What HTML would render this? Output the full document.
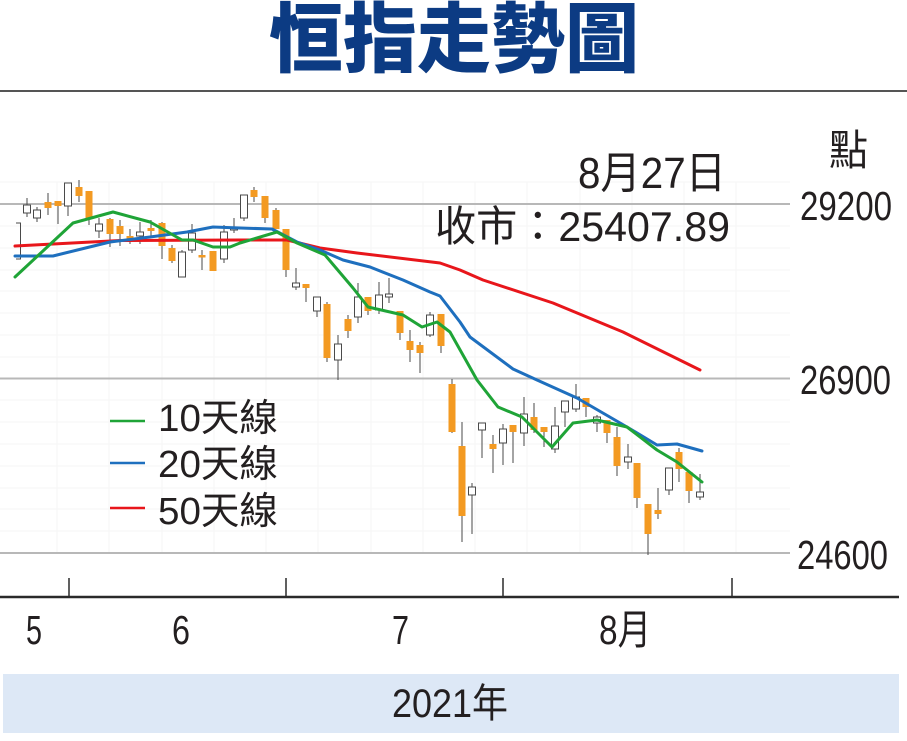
<!DOCTYPE html>
<html><head><meta charset="utf-8"><style>
html,body{margin:0;padding:0;background:#fff;}
svg{display:block;}
text{font-family:"Liberation Sans","Noto Sans CJK TC",sans-serif;fill:#231f20;}
.o{fill:#f39a22;stroke:none;}
.h{fill:#fff;stroke:#4a4a4a;stroke-width:1;}
.w{stroke:#4a4a4a;stroke-width:1;}
</style></head><body>
<svg width="907" height="741" viewBox="0 0 907 741" xmlns="http://www.w3.org/2000/svg">
<rect width="907" height="741" fill="#fff"/>
<text x="269" y="66" font-size="76" font-weight="bold" textLength="370" lengthAdjust="spacingAndGlyphs" style="fill:#0c3b83;font-family:'Noto Sans CJK TC','Noto Sans CJK SC',sans-serif;font-weight:900">恒指走勢圖</text>
<line x1="0" y1="91" x2="907" y2="91" stroke="#555" stroke-width="2"/>

<!-- faint grid -->
<g stroke="#f5f5f5" stroke-width="1">
<line x1="0" y1="182" x2="790" y2="182"/>
<line x1="0" y1="226" x2="790" y2="226"/><line x1="0" y1="248" x2="790" y2="248"/><line x1="0" y1="270" x2="790" y2="270"/><line x1="0" y1="291" x2="790" y2="291"/><line x1="0" y1="313" x2="790" y2="313"/><line x1="0" y1="335" x2="790" y2="335"/><line x1="0" y1="357" x2="790" y2="357"/>
<line x1="0" y1="400" x2="790" y2="400"/><line x1="0" y1="422" x2="790" y2="422"/><line x1="0" y1="444" x2="790" y2="444"/><line x1="0" y1="466" x2="790" y2="466"/><line x1="0" y1="488" x2="790" y2="488"/><line x1="0" y1="509" x2="790" y2="509"/><line x1="0" y1="531" x2="790" y2="531"/>
<line x1="57" y1="182" x2="57" y2="553"/><line x1="109" y1="182" x2="109" y2="553"/><line x1="162" y1="182" x2="162" y2="553"/><line x1="214" y1="182" x2="214" y2="553"/><line x1="266" y1="182" x2="266" y2="553"/><line x1="318" y1="182" x2="318" y2="553"/><line x1="371" y1="182" x2="371" y2="553"/><line x1="423" y1="182" x2="423" y2="553"/><line x1="475" y1="182" x2="475" y2="553"/><line x1="527" y1="182" x2="527" y2="553"/><line x1="580" y1="182" x2="580" y2="553"/><line x1="632" y1="182" x2="632" y2="553"/><line x1="684" y1="182" x2="684" y2="553"/><line x1="736" y1="182" x2="736" y2="553"/>
</g>

<!-- main gridlines -->
<g stroke="#b8b8b8" stroke-width="2">
<line x1="0" y1="204" x2="790" y2="204"/>
<line x1="0" y1="378.5" x2="790" y2="378.5"/>
<line x1="0" y1="553" x2="790" y2="553"/>
</g>

<!-- texts top right -->
<text x="829" y="165" font-size="42" textLength="39" lengthAdjust="spacingAndGlyphs">點</text>
<text x="578" y="188" font-size="44" textLength="148" lengthAdjust="spacingAndGlyphs">8月27日</text>
<text x="435" y="241" font-size="42" textLength="295" lengthAdjust="spacingAndGlyphs">收市：25407.89</text>
<text x="800" y="220" font-size="41" textLength="92" lengthAdjust="spacingAndGlyphs">29200</text>
<text x="800" y="394" font-size="41" textLength="91" lengthAdjust="spacingAndGlyphs">26900</text>
<text x="797" y="569" font-size="41" textLength="91" lengthAdjust="spacingAndGlyphs">24600</text>

<!-- candles -->
<path d="M16,223 H20.5 V259 H16" fill="none" stroke="#4a4a4a" stroke-width="1"/>
<g>
<line class="w" x1="27" y1="198" x2="27" y2="217"/><rect class="h" x="23.5" y="205" width="7" height="8"/>
<line class="w" x1="37" y1="207" x2="37" y2="222"/><rect class="h" x="33.5" y="210" width="7" height="8"/>
<line class="w" x1="48" y1="193" x2="48" y2="215"/><rect class="o" x="44.5" y="202" width="7" height="6"/>
<line class="w" x1="58" y1="201" x2="58" y2="224"/><rect class="o" x="54.5" y="201" width="7" height="5"/>
<line class="w" x1="68" y1="183" x2="68" y2="216"/><rect class="h" x="64.5" y="183" width="7" height="23"/>
<line class="w" x1="79" y1="180" x2="79" y2="202"/><rect class="o" x="75.5" y="187" width="7" height="9"/>
<line class="w" x1="89" y1="191" x2="89" y2="225"/><rect class="o" x="85.5" y="191" width="7" height="27"/>
<line class="w" x1="99" y1="218" x2="99" y2="238"/><rect class="h" x="95.5" y="224" width="7" height="7"/>
<line class="w" x1="110" y1="218" x2="110" y2="247"/><rect class="o" x="106.5" y="219" width="7" height="15"/>
<line class="w" x1="120" y1="220" x2="120" y2="246"/><rect class="o" x="116.5" y="226" width="7" height="8"/>
<line class="w" x1="130" y1="229" x2="130" y2="244"/><rect class="o" x="126.5" y="236" width="7" height="2.5"/>
<line class="w" x1="140" y1="222" x2="140" y2="244"/><rect class="h" x="136.5" y="232" width="7" height="4"/>
<line class="w" x1="151" y1="220" x2="151" y2="238"/><rect class="o" x="147.5" y="228" width="7" height="3"/>
<line class="w" x1="162" y1="222" x2="162" y2="259"/><rect class="o" x="158.5" y="223" width="7" height="23"/>
<line class="w" x1="172" y1="245" x2="172" y2="263"/><rect class="o" x="168.5" y="248" width="7" height="13"/>
<line class="w" x1="182" y1="250" x2="182" y2="277"/><rect class="h" x="178.5" y="252" width="7" height="25"/>
<line class="w" x1="192" y1="224" x2="192" y2="253"/><rect class="h" x="188.5" y="233" width="7" height="17"/>
<line class="w" x1="202" y1="250" x2="202" y2="270"/><rect class="o" x="198.5" y="255" width="7" height="2.5"/>
<line class="w" x1="213" y1="251" x2="213" y2="271"/><rect class="o" x="209.5" y="251" width="7" height="20"/>
<line class="w" x1="224" y1="225" x2="224" y2="263"/><rect class="h" x="220.5" y="232" width="7" height="27"/>
<line class="w" x1="234" y1="218" x2="234" y2="233"/><rect class="h" x="230.5" y="228" width="7" height="2"/>
<line class="w" x1="244" y1="195" x2="244" y2="221"/><rect class="h" x="240.5" y="195" width="7" height="23"/>
<line class="w" x1="254" y1="187" x2="254" y2="202"/><rect class="o" x="250.5" y="190" width="7" height="7"/>
<line class="w" x1="265" y1="196" x2="265" y2="223"/><rect class="o" x="261.5" y="196" width="7" height="22"/>
<line class="w" x1="276" y1="208" x2="276" y2="229"/><rect class="o" x="272.5" y="210" width="7" height="19"/>
<line class="w" x1="286" y1="229" x2="286" y2="277"/><rect class="o" x="282.5" y="229" width="7" height="41"/>
<line class="w" x1="296" y1="268" x2="296" y2="290"/><rect class="h" x="292.5" y="283" width="7" height="4"/>
<line class="w" x1="306" y1="284" x2="306" y2="302"/><rect class="o" x="302.5" y="284" width="7" height="4"/>
<line class="w" x1="317" y1="297" x2="317" y2="317"/><rect class="h" x="313.5" y="297" width="7" height="14"/>
<line class="w" x1="327" y1="302" x2="327" y2="362"/><rect class="o" x="323.5" y="304" width="7" height="54"/>
<line class="w" x1="338" y1="335" x2="338" y2="380"/><rect class="h" x="334.5" y="344" width="7" height="16"/>
<line class="w" x1="348" y1="315" x2="348" y2="338"/><rect class="o" x="344.5" y="319" width="7" height="12"/>
<line class="w" x1="358" y1="283" x2="358" y2="323"/><rect class="h" x="354.5" y="297" width="7" height="20"/>
<line class="w" x1="368" y1="297" x2="368" y2="315"/><rect class="o" x="364.5" y="297" width="7" height="14"/>
<line class="w" x1="379" y1="282" x2="379" y2="314"/><rect class="h" x="375.5" y="295" width="7" height="15"/>
<line class="w" x1="389" y1="278" x2="389" y2="303"/><rect class="h" x="385.5" y="294" width="7" height="3"/>
<line class="w" x1="400" y1="311" x2="400" y2="340"/><rect class="o" x="396.5" y="311" width="7" height="22"/>
<line class="w" x1="410" y1="330" x2="410" y2="362"/><rect class="o" x="406.5" y="341" width="7" height="9"/>
<line class="w" x1="420" y1="342" x2="420" y2="373"/><rect class="o" x="416.5" y="345" width="7" height="8"/>
<line class="w" x1="430" y1="312" x2="430" y2="337"/><rect class="h" x="426.5" y="315" width="7" height="20"/>
<line class="w" x1="441" y1="314" x2="441" y2="353"/><rect class="o" x="437.5" y="314" width="7" height="32"/>
<line class="w" x1="452" y1="379" x2="452" y2="433"/><rect class="o" x="448.5" y="384" width="7" height="48"/>
<line class="w" x1="462" y1="422" x2="462" y2="542"/><rect class="o" x="458.5" y="446" width="7" height="70"/>
<line class="w" x1="472" y1="483" x2="472" y2="534"/><rect class="h" x="468.5" y="487" width="7" height="8"/>
<line class="w" x1="482" y1="423" x2="482" y2="458"/><rect class="h" x="478.5" y="423" width="7" height="7"/>
<line class="w" x1="493" y1="435" x2="493" y2="473"/><rect class="o" x="489.5" y="444" width="7" height="5"/>
<line class="w" x1="503" y1="424" x2="503" y2="465"/><rect class="h" x="499.5" y="429" width="7" height="14"/>
<line class="w" x1="513" y1="425" x2="513" y2="463"/><rect class="o" x="509.5" y="425" width="7" height="7"/>
<line class="w" x1="524" y1="397" x2="524" y2="446"/><rect class="h" x="520.5" y="414" width="7" height="19"/>
<line class="w" x1="534" y1="403" x2="534" y2="433"/><rect class="o" x="530.5" y="417" width="7" height="13"/>
<line class="w" x1="544" y1="427" x2="544" y2="447"/><rect class="o" x="540.5" y="427" width="7" height="5"/>
<line class="w" x1="555" y1="407" x2="555" y2="453"/><rect class="h" x="551.5" y="426" width="7" height="23"/>
<line class="w" x1="565" y1="401" x2="565" y2="427"/><rect class="h" x="561.5" y="401" width="7" height="11"/>
<line class="w" x1="576" y1="384" x2="576" y2="412"/><rect class="h" x="572.5" y="397" width="7" height="12"/>
<line class="w" x1="586" y1="398" x2="586" y2="417"/><rect class="o" x="582.5" y="398" width="7" height="9"/>
<line class="w" x1="597" y1="415" x2="597" y2="432"/><rect class="h" x="593.5" y="417" width="7" height="6"/>
<line class="w" x1="607" y1="420" x2="607" y2="443"/><rect class="o" x="603.5" y="420" width="7" height="13"/>
<line class="w" x1="617" y1="427" x2="617" y2="476"/><rect class="o" x="613.5" y="437" width="7" height="29"/>
<line class="w" x1="628" y1="444" x2="628" y2="469"/><rect class="h" x="624.5" y="457" width="7" height="5"/>
<line class="w" x1="637" y1="463" x2="637" y2="508"/><rect class="o" x="633.5" y="463" width="7" height="35"/>
<line class="w" x1="648" y1="504" x2="648" y2="555"/><rect class="o" x="644.5" y="504" width="7" height="30"/>
<line class="w" x1="658" y1="488" x2="658" y2="519"/><rect class="o" x="654.5" y="510" width="7" height="4"/>
<line class="w" x1="669" y1="468" x2="669" y2="495"/><rect class="h" x="665.5" y="468" width="7" height="22"/>
<line class="w" x1="679" y1="448" x2="679" y2="482"/><rect class="o" x="675.5" y="452" width="7" height="17"/>
<line class="w" x1="689" y1="472" x2="689" y2="503"/><rect class="o" x="685.5" y="472" width="7" height="19"/>
<line class="w" x1="700" y1="474" x2="700" y2="500"/><rect class="h" x="696.5" y="492" width="7" height="5"/>
</g>

<!-- moving averages -->
<g fill="none" stroke-width="3" stroke-linejoin="round" stroke-linecap="round">
<polyline stroke="#e8161b" points="15,246 120,240.5 240,240 287,240 320,248 357,253 440,263 460,270 483,280 553,303 623,332 700,370"/>
<polyline stroke="#1e6fbe" points="15,256 53,256 110,242 150,237 187,232 213,227 240,228 272,229 297,242 320,250 343,260 370,267 403,280 430,292 440,296 460,322 470,337 513,369 537,380 577,398 627,427 657,445 677,444 702,451"/>
<polyline stroke="#1fa437" points="15,277 73,223 113,212 150,222 182,240 193,240 213,247 230,247 240,243 277,232 297,243 325,255 353,288 368,307 403,315 422,327 437,322 450,332 477,380 498,407 522,417 537,432 552,447 573,423 597,420 627,427 657,450 677,462 702,482"/>
</g>

<!-- legend -->
<line x1="110" y1="421" x2="145" y2="421" stroke="#1fa437" stroke-width="2.5"/>
<line x1="110" y1="463" x2="145" y2="463" stroke="#1e6fbe" stroke-width="2.5"/>
<line x1="110" y1="508" x2="145" y2="508" stroke="#e8161b" stroke-width="2.5"/>
<text x="158" y="431" font-size="38" textLength="120" lengthAdjust="spacingAndGlyphs">10天線</text>
<text x="158" y="477" font-size="38" textLength="120" lengthAdjust="spacingAndGlyphs">20天線</text>
<text x="158" y="524" font-size="38" textLength="120" lengthAdjust="spacingAndGlyphs">50天線</text>

<!-- x axis -->
<line x1="0" y1="597" x2="899" y2="597" stroke="#2a2a2a" stroke-width="2.5"/>
<g stroke="#2a2a2a" stroke-width="1.5">
<line x1="69" y1="578" x2="69" y2="597"/>
<line x1="286" y1="578" x2="286" y2="597"/>
<line x1="503" y1="578" x2="503" y2="597"/>
<line x1="732" y1="578" x2="732" y2="597"/>
</g>
<text x="26" y="644" font-size="41" textLength="16" lengthAdjust="spacingAndGlyphs">5</text>
<text x="172" y="644" font-size="41" textLength="18" lengthAdjust="spacingAndGlyphs">6</text>
<text x="392" y="644" font-size="41" textLength="17" lengthAdjust="spacingAndGlyphs">7</text>
<text x="599" y="644" font-size="41" textLength="52" lengthAdjust="spacingAndGlyphs">8月</text>

<rect x="3" y="674" width="896" height="59" fill="#dde8f6"/>
<text x="392" y="717" font-size="40" textLength="116" lengthAdjust="spacingAndGlyphs">2021年</text>
</svg>
</body></html>
